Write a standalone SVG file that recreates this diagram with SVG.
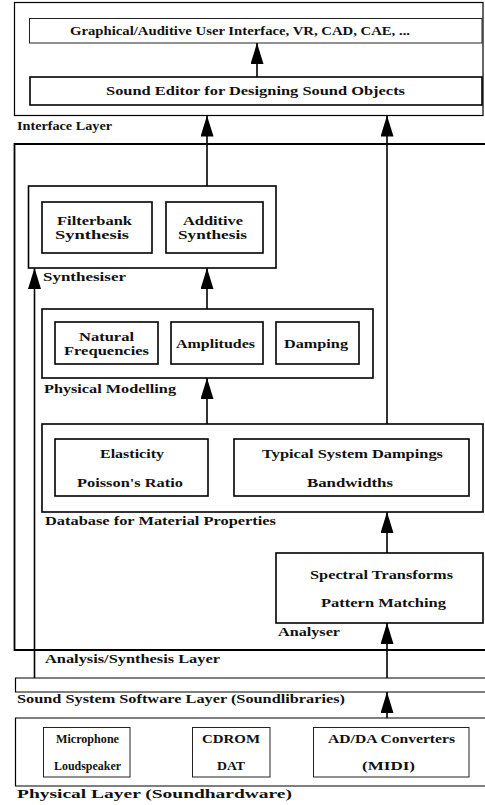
<svg xmlns="http://www.w3.org/2000/svg" width="485" height="805" viewBox="0 0 485 805">
<defs>
<marker id="ah" markerUnits="userSpaceOnUse" markerWidth="22" markerHeight="14" refX="21" refY="6.5" orient="auto">
<path d="M0,0 L21,6.5 L0,13 z" fill="#000"/>
</marker>
<style>
text{font-family:"Liberation Serif","Times New Roman",serif;font-size:13.5px;font-weight:bold;fill:#111}
.t{font-size:12.5px}
.s{font-size:13px}
.layer{fill:none;stroke:#000;stroke-width:1.2}
.grp{fill:none;stroke:#000;stroke-width:1.8}
.node{fill:#fff;stroke:#000;stroke-width:1.6}
.thin{fill:#fff;stroke:#222;stroke-width:1}
.con{fill:none;stroke:#000;stroke-width:1.6;marker-end:url(#ah)}
</style>
</defs>
<rect width="485" height="805" fill="#fff"/>

<g id="interface-layer">
<rect class="layer" x="14.5" y="2.5" width="468.5" height="113"/>
<text x="17" y="130" textLength="95" lengthAdjust="spacingAndGlyphs">Interface Layer</text>
</g>
<g id="gui">
<rect class="thin" x="29.5" y="18.5" width="452.5" height="24.5"/>
<text x="70" y="35" textLength="340" lengthAdjust="spacingAndGlyphs">Graphical/Auditive User Interface, VR, CAD, CAE, ...</text>
</g>
<g id="sound-editor">
<rect class="node" x="30" y="77" width="452" height="28" stroke-width="2.2"/>
<text x="106" y="95" textLength="299" lengthAdjust="spacingAndGlyphs">Sound Editor for Designing Sound Objects</text>
</g>

<g id="analysis-synthesis-layer">
<path class="grp" d="M485,144 H14.5 V650 H485"/>
<text x="45" y="663" textLength="175" lengthAdjust="spacingAndGlyphs">Analysis/Synthesis Layer</text>
</g>

<g id="synthesiser">
<rect class="node" x="28.5" y="186" width="247.5" height="82"/>
<text x="43" y="281" textLength="83" lengthAdjust="spacingAndGlyphs">Synthesiser</text>
</g>
<g id="filterbank">
<rect class="node" x="42" y="202" width="110" height="51"/>
<text class="t" x="57" y="225" textLength="75" lengthAdjust="spacingAndGlyphs">Filterbank</text>
<text class="t" x="55" y="239" textLength="74" lengthAdjust="spacingAndGlyphs">Synthesis</text>
</g>
<g id="additive">
<rect class="node" x="166" y="202" width="97" height="51"/>
<text class="t" x="183" y="225" textLength="60" lengthAdjust="spacingAndGlyphs">Additive</text>
<text class="t" x="178" y="239" textLength="69" lengthAdjust="spacingAndGlyphs">Synthesis</text>
</g>

<g id="physical-modelling">
<rect class="node" x="42" y="309" width="331" height="69"/>
<text x="44" y="393" textLength="132" lengthAdjust="spacingAndGlyphs">Physical Modelling</text>
</g>
<g id="natural-frequencies">
<rect class="node" x="55" y="322" width="103" height="42"/>
<text class="t" x="79" y="341" textLength="55" lengthAdjust="spacingAndGlyphs">Natural</text>
<text class="t" x="64" y="355" textLength="85" lengthAdjust="spacingAndGlyphs">Frequencies</text>
</g>
<g id="amplitudes">
<rect class="node" x="171" y="322" width="92" height="42"/>
<text x="176" y="348" textLength="79" lengthAdjust="spacingAndGlyphs">Amplitudes</text>
</g>
<g id="damping">
<rect class="node" x="276" y="322" width="83" height="42"/>
<text x="284" y="348" textLength="64" lengthAdjust="spacingAndGlyphs">Damping</text>
</g>

<g id="database">
<rect class="node" x="42" y="424" width="441" height="88"/>
<text x="45" y="525" textLength="231" lengthAdjust="spacingAndGlyphs">Database for Material Properties</text>
</g>
<g id="elasticity">
<rect class="node" x="55" y="439" width="153" height="57"/>
<text x="100" y="458" textLength="64" lengthAdjust="spacingAndGlyphs">Elasticity</text>
<text x="77" y="487" textLength="106" lengthAdjust="spacingAndGlyphs">Poisson's Ratio</text>
</g>
<g id="dampings">
<rect class="node" x="234" y="439" width="235" height="57"/>
<text x="262" y="458" textLength="181" lengthAdjust="spacingAndGlyphs">Typical System Dampings</text>
<text x="307" y="487" textLength="86" lengthAdjust="spacingAndGlyphs">Bandwidths</text>
</g>

<g id="analyser">
<rect class="node" x="276" y="553" width="207" height="70"/>
<text x="310" y="579" textLength="143" lengthAdjust="spacingAndGlyphs">Spectral Transforms</text>
<text x="321" y="607" textLength="125" lengthAdjust="spacingAndGlyphs">Pattern Matching</text>
<text x="278" y="636" textLength="62" lengthAdjust="spacingAndGlyphs">Analyser</text>
</g>

<g id="sound-system-layer">
<path class="layer" d="M485,678 H15.5 V692 H485"/>
<text x="17" y="703" textLength="328" lengthAdjust="spacingAndGlyphs">Sound System Software Layer (Soundlibraries)</text>
</g>

<g id="physical-layer">
<path class="layer" d="M485,718 H15.5 V786 H485"/>
<text x="17" y="798" textLength="275" lengthAdjust="spacingAndGlyphs">Physical Layer (Soundhardware)</text>
</g>
<g id="microphone">
<rect class="thin" x="43.5" y="727.5" width="86.5" height="49.5"/>
<text class="s" x="56" y="743" textLength="63" lengthAdjust="spacingAndGlyphs">Microphone</text>
<text class="s" x="54" y="770" textLength="67" lengthAdjust="spacingAndGlyphs">Loudspeaker</text>
</g>
<g id="cdrom">
<rect class="thin" x="192.5" y="727.5" width="77.5" height="49.5"/>
<text x="202" y="743" textLength="58" lengthAdjust="spacingAndGlyphs">CDROM</text>
<text x="217" y="770" textLength="28" lengthAdjust="spacingAndGlyphs">DAT</text>
</g>
<g id="adda">
<rect class="thin" x="313.5" y="727.5" width="155.5" height="49.5"/>
<text x="328" y="743" textLength="127" lengthAdjust="spacingAndGlyphs">AD/DA Converters</text>
<text x="362" y="770" textLength="53" lengthAdjust="spacingAndGlyphs">(MIDI)</text>
</g>

<g id="connectors">
<line class="con" x1="257" y1="77" x2="257" y2="43"/>
<line class="con" x1="207" y1="186" x2="207" y2="115.5"/>
<line class="con" x1="387" y1="424" x2="387" y2="115.5"/>
<line class="con" x1="207" y1="309" x2="207" y2="268"/>
<line class="con" x1="34.5" y1="678" x2="34.5" y2="268"/>
<line class="con" x1="207" y1="424" x2="207" y2="378"/>
<line class="con" x1="387" y1="553" x2="387" y2="512"/>
<line class="con" x1="387" y1="678" x2="387" y2="623"/>
<line class="con" x1="387" y1="718" x2="387" y2="692"/>
</g>
</svg>
